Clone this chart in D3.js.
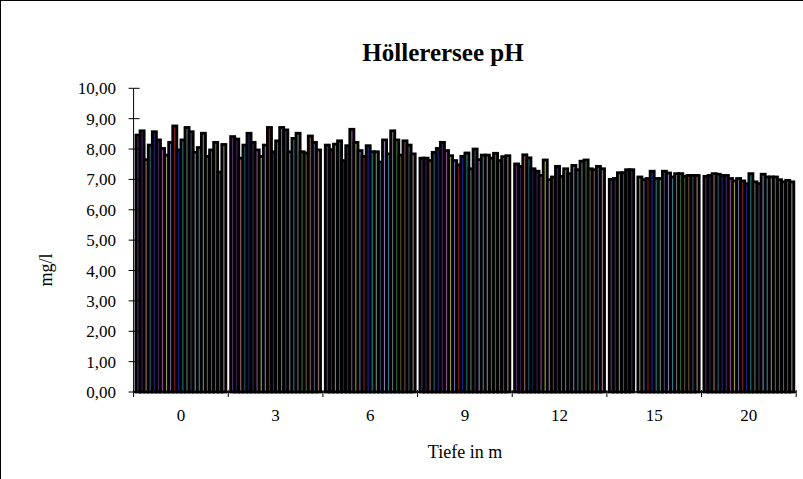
<!DOCTYPE html>
<html><head><meta charset="utf-8">
<script src="https://cdn.jsdelivr.net/npm/d3@7"></script>
<style>body{margin:0;background:#fff}svg{display:block}</style>
</head><body>
<svg id="c" width="803" height="479"></svg>
<script>
const categories = ["0","3","6","9","12","15","20"];
const yTicks = [0,1,2,3,4,5,6,7,8,9,10];
// values per depth for 22 sampling dates (series)
const depth0  = [8.46,8.60,7.65,8.13,8.57,8.30,8.02,7.80,8.22,8.76,7.97,8.30,8.71,8.57,7.89,8.05,8.52,7.76,7.97,8.22,7.24,8.15];
const depth3  = [8.41,8.33,7.70,8.13,8.52,8.22,7.97,7.76,8.13,8.71,7.91,8.27,8.71,8.63,7.91,8.35,8.52,7.91,7.87,8.43,8.22,7.97];
const depth6  = [8.13,7.98,8.16,8.27,7.62,8.11,8.65,8.22,7.95,7.76,8.11,7.91,7.91,7.57,8.30,7.84,8.60,8.30,7.80,8.27,8.13,7.84];
const depth9  = [7.70,7.70,7.62,7.89,8.02,8.22,7.95,7.78,7.62,7.48,7.76,7.87,7.35,8.00,7.65,7.80,7.80,7.70,7.86,7.62,7.75,7.78];
const depth12 = [7.51,7.43,7.81,7.71,7.35,7.27,7.13,7.64,6.99,7.08,7.43,7.10,7.35,7.19,7.46,7.32,7.60,7.64,7.35,7.32,7.43,7.35];
const depth15 = [7.00,7.03,7.22,7.22,7.32,7.32,null,7.08,6.99,7.03,7.27,7.03,7.03,7.27,7.21,7.08,7.19,7.19,7.10,7.13,7.13,7.13];
const depth20 = [7.10,7.13,7.19,7.17,7.13,7.13,7.03,6.95,7.03,6.95,6.86,7.19,6.92,6.86,7.17,7.08,7.08,7.08,6.99,6.92,6.97,6.92];
const seriesColors = ["#5a2a6a","#3a2050","#a06a60","#205a6a","#1a2060","#402050","#8a4a8a","#9a9a30","#6a6aa0","#8a1a1a","#2020a0","#207a7a","#607a60","#3a3a5a","#8a7aaa","#2a7a8a","#707070","#3a6a3a","#5a5a3a","#7a5040","#40506a","#8a6a6a"];

const table = [depth0,depth3,depth6,depth9,depth12,depth15,depth20];
const nSeries = depth0.length;
const seriesIdx = d3.range(nSeries);

const svg = d3.select("#c");
const pLeft = 133.6, pRight = 796.2, pTop = 88.3, pBottom = 392;

svg.append("rect").attr("x",0.5).attr("y",0.5).attr("width",830).attr("height",500)
  .attr("fill","none").attr("stroke","#000").attr("stroke-width",1);

const x0 = d3.scaleBand().domain(categories).range([pLeft,pRight]).paddingInner(0.05).paddingOuter(0.025);
const x1 = d3.scaleBand().domain(seriesIdx).range([0,x0.bandwidth()]);
const y = d3.scaleLinear().domain([0,10]).range([pBottom,pTop]);

const g = svg.append("g");
categories.forEach((c,ci)=>{
  const gg = g.append("g").attr("transform",`translate(${x0(c)},0)`);
  gg.selectAll("rect").data(seriesIdx.filter(i=>table[ci][i]!=null)).join("rect")
    .attr("x",i=>x1(i)).attr("width",x1.bandwidth())
    .attr("y",i=>y(table[ci][i])).attr("height",i=>y(0)-y(table[ci][i]))
    .attr("fill",i=>seriesColors[i]).attr("stroke","#000").attr("stroke-width",2.8);
});

// y axis
const ya = svg.append("g");
ya.append("line").attr("x1",pLeft).attr("x2",pLeft).attr("y1",y(10)).attr("y2",pBottom).attr("stroke","#000");
ya.selectAll("line.t").data(yTicks).join("line").attr("class","t")
  .attr("x1",pLeft-5).attr("x2",pLeft+6).attr("y1",d=>y(d)).attr("y2",d=>y(d)).attr("stroke","#000");
ya.selectAll("text").data(yTicks).join("text")
  .attr("x",116).attr("y",d=>y(d)+6).attr("text-anchor","end")
  .attr("font-family","Liberation Serif").attr("font-size",17)
  .text(d=>d3.format(".2f")(d).replace(".",","));

// x axis
const xa = svg.append("g");
xa.append("line").attr("x1",pLeft).attr("x2",pRight).attr("y1",pBottom).attr("y2",pBottom).attr("stroke","#000").attr("stroke-width",1.5);
const bounds = categories.map(c=>x0(c)-x0.step()*x0.paddingInner()/2).concat([pRight]);
xa.selectAll("line.t").data(bounds).join("line").attr("class","t")
  .attr("x1",d=>d).attr("x2",d=>d).attr("y1",pBottom-2).attr("y2",pBottom+5).attr("stroke","#000");
xa.selectAll("text").data(categories).join("text")
  .attr("x",d=>x0(d)+x0.bandwidth()/2).attr("y",421).attr("text-anchor","middle")
  .attr("font-family","Liberation Serif").attr("font-size",17).text(d=>d);

svg.append("text").attr("x",443).attr("y",61).attr("text-anchor","middle")
  .attr("font-family","Liberation Serif").attr("font-weight","bold").attr("font-size",25).text("Höllerersee pH");
svg.append("text").attr("x",465).attr("y",458).attr("text-anchor","middle")
  .attr("font-family","Liberation Serif").attr("font-size",18).text("Tiefe in m");
svg.append("text").attr("transform","translate(52,270) rotate(-90)").attr("text-anchor","middle")
  .attr("font-family","Liberation Serif").attr("font-size",18).text("mg/l");
</script>
</body></html>
